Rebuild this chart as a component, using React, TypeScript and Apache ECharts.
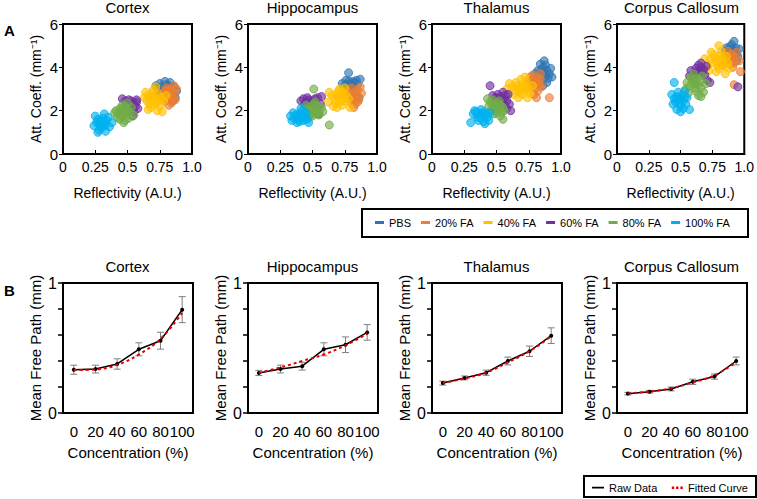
import React, { useEffect, useRef } from "react";
import * as echarts from "echarts";

// ---------- DATA ----------
const regions = ["Cortex", "Hippocampus", "Thalamus", "Corpus Callosum"];
const groups = ["PBS", "20% FA", "40% FA", "60% FA", "80% FA", "100% FA"];
const groupColors = ["#2E75B6", "#ED7D31", "#FFC000", "#7030A0", "#70AD47", "#00B0F0"];
const conc = [0, 20, 40, 60, 80, 100];

// Cortex scatter (reflectivity, attenuation coefficient)
const cortexPBS = [[0.74,2.9],[0.76,3.1],[0.78,3.0],[0.8,3.05],[0.77,2.85],[0.82,3.15],[0.75,3.25],[0.79,3.35],[0.84,2.95],[0.81,2.8],[0.73,3.05],[0.86,3.1],[0.87,2.6],[0.85,2.45],[0.83,3.3],[0.76,2.7],[0.8,3.2],[0.78,2.75],[0.72,3.15],[0.88,2.9]];
const cortex20 = [[0.8,2.7],[0.82,2.8],[0.84,2.6],[0.79,2.9],[0.83,3.0],[0.86,2.75],[0.81,2.5],[0.85,2.9],[0.78,2.65],[0.87,2.5],[0.84,2.35],[0.8,3.05],[0.76,2.8],[0.88,3.0],[0.82,2.25],[0.86,3.15],[0.79,2.45],[0.83,2.7],[0.85,2.55],[0.81,2.95]];
const cortex40 = [[0.68,2.5],[0.7,2.6],[0.72,2.55],[0.66,2.7],[0.69,2.8],[0.73,2.4],[0.71,2.3],[0.65,2.45],[0.74,2.75],[0.67,2.3],[0.7,2.95],[0.76,2.6],[0.63,2.6],[0.72,3.1],[0.75,2.2],[0.68,2.15],[0.78,2.45],[0.64,2.85],[0.73,2.0],[0.77,1.95],[0.66,2.05],[0.8,2.7],[0.69,2.65],[0.71,2.45]];
const cortex60 = [[0.5,2.2],[0.52,2.3],[0.54,2.1],[0.55,2.35],[0.53,2.45],[0.56,2.2],[0.51,2.5],[0.57,2.4],[0.48,2.45],[0.55,1.95],[0.58,2.1],[0.54,1.75],[0.46,2.55],[0.53,2.0],[0.57,2.5],[0.49,2.3]];
const cortex80 = [[0.45,1.9],[0.47,2.0],[0.49,1.85],[0.44,2.1],[0.46,1.75],[0.5,2.05],[0.48,2.2],[0.43,1.85],[0.52,1.9],[0.46,2.25],[0.41,2.0],[0.51,1.65],[0.44,1.6],[0.53,2.15],[0.48,1.55],[0.42,1.7],[0.5,2.35],[0.4,1.9],[0.55,1.8],[0.47,1.45],[0.45,2.05],[0.49,1.95]];
const cortex100 = [[0.28,1.4],[0.3,1.5],[0.32,1.45],[0.27,1.6],[0.29,1.3],[0.31,1.65],[0.33,1.35],[0.26,1.45],[0.34,1.55],[0.3,1.2],[0.25,1.75],[0.35,1.7],[0.28,1.1],[0.32,1.85],[0.24,1.3],[0.36,1.25],[0.27,1.0],[0.33,1.05],[0.38,1.45],[0.29,1.55],[0.31,1.35]];

// Hippocampus scatter
const hippoPBS = [[0.77,3.2],[0.79,3.25],[0.81,3.15],[0.78,3.35],[0.8,3.05],[0.75,3.15],[0.83,3.3],[0.76,3.4],[0.82,2.95],[0.85,3.2],[0.78,3.75],[0.87,3.45],[0.84,3.4],[0.73,3.25],[0.8,2.75],[0.86,2.6],[0.77,3.0],[0.81,3.35]];
const hippo20 = [[0.8,2.7],[0.82,2.6],[0.79,2.8],[0.83,2.85],[0.81,2.5],[0.84,2.7],[0.78,2.55],[0.85,2.95],[0.8,2.35],[0.86,2.5],[0.77,2.9],[0.83,2.3],[0.87,3.1],[0.74,2.6],[0.82,2.15],[0.88,2.8],[0.8,3.05],[0.85,2.4]];
const hippo40 = [[0.7,2.6],[0.72,2.7],[0.74,2.6],[0.69,2.75],[0.71,2.5],[0.73,2.85],[0.67,2.55],[0.75,2.45],[0.7,2.9],[0.65,2.7],[0.76,2.75],[0.68,2.35],[0.73,2.25],[0.63,2.85],[0.78,2.55],[0.66,2.2],[0.71,3.0],[0.62,2.4],[0.79,2.15],[0.75,3.05],[0.69,2.15],[0.72,2.45]];
const hippo60 = [[0.45,2.4],[0.47,2.5],[0.43,2.55],[0.5,2.45],[0.46,2.6],[0.52,2.55],[0.49,2.35],[0.54,2.6],[0.44,2.3],[0.56,2.3],[0.55,1.85],[0.53,2.1],[0.57,2.65],[0.41,2.45]];
const hippo80 = [[0.48,2.0],[0.5,2.05],[0.52,1.95],[0.47,2.15],[0.49,1.85],[0.53,2.2],[0.51,2.3],[0.46,1.9],[0.54,2.0],[0.45,2.25],[0.55,1.8],[0.5,1.75],[0.57,2.15],[0.44,2.05],[0.52,2.4],[0.58,1.95],[0.51,3.0],[0.63,1.34],[0.47,1.7],[0.53,1.85]];
const hippo100 = [[0.38,1.7],[0.4,1.75],[0.42,1.68],[0.37,1.8],[0.39,1.6],[0.41,1.85],[0.43,1.55],[0.36,1.65],[0.44,1.75],[0.4,1.5],[0.35,1.9],[0.45,1.9],[0.38,1.45],[0.42,2.0],[0.34,1.55],[0.46,1.6],[0.33,1.75],[0.47,1.45],[0.41,2.1],[0.39,1.85]];

// Thalamus scatter
const thalPBS = [[0.84,3.7],[0.86,3.8],[0.88,3.65],[0.85,3.9],[0.87,3.55],[0.83,3.6],[0.89,3.85],[0.86,4.0],[0.82,3.85],[0.9,3.5],[0.85,3.45],[0.88,4.1],[0.91,3.7],[0.8,3.7],[0.84,4.15],[0.87,4.3],[0.93,3.55],[0.89,3.3],[0.81,3.45],[0.92,3.95],[0.86,3.15]];
const thal20 = [[0.79,3.3],[0.81,3.35],[0.77,3.4],[0.8,3.2],[0.82,3.5],[0.78,3.15],[0.83,3.25],[0.76,3.55],[0.8,3.0],[0.84,3.45],[0.75,3.3],[0.82,2.9],[0.78,3.65],[0.85,3.1],[0.79,2.75],[0.74,3.05],[0.81,2.6],[0.91,2.6],[0.84,3.7]];
const thal40 = [[0.67,3.0],[0.69,3.05],[0.71,2.95],[0.66,3.15],[0.7,3.2],[0.72,3.1],[0.68,2.85],[0.64,2.95],[0.74,3.0],[0.65,3.3],[0.7,2.75],[0.73,3.35],[0.62,3.1],[0.76,2.8],[0.67,2.6],[0.6,3.25],[0.72,3.55],[0.63,2.75],[0.78,3.15],[0.69,3.45],[0.74,2.6],[0.58,3.0]];
const thal60 = [[0.52,2.6],[0.54,2.65],[0.56,2.55],[0.51,2.75],[0.55,2.4],[0.57,2.7],[0.53,2.5],[0.49,2.6],[0.58,2.45],[0.5,2.45],[0.59,2.75],[0.55,2.85],[0.47,2.7],[0.6,2.3],[0.58,2.1],[0.45,3.15],[0.61,2.0],[0.56,2.25]];
const thal80 = [[0.48,2.15],[0.5,2.2],[0.52,2.1],[0.47,2.3],[0.49,2.0],[0.51,2.35],[0.53,2.25],[0.46,2.05],[0.54,1.95],[0.45,2.4],[0.5,1.9],[0.55,2.15],[0.44,2.2],[0.52,2.45],[0.48,1.85],[0.43,2.55],[0.56,2.0],[0.53,1.75],[0.55,1.6],[0.47,2.5]];
const thal100 = [[0.37,1.8],[0.39,1.85],[0.41,1.75],[0.36,1.9],[0.38,1.65],[0.4,1.95],[0.42,1.85],[0.35,1.7],[0.43,1.7],[0.38,2.05],[0.34,1.95],[0.44,1.55],[0.36,1.55],[0.4,1.5],[0.32,1.85],[0.45,1.9],[0.3,1.45],[0.41,1.4],[0.33,2.0]];

// Corpus Callosum scatter
const ccPBS = [[0.88,4.8],[0.9,4.85],[0.92,4.75],[0.89,4.95],[0.91,4.6],[0.87,4.7],[0.93,4.9],[0.86,4.9],[0.94,4.65],[0.9,5.05],[0.85,4.75],[0.95,4.5],[0.92,5.2],[0.89,4.5],[0.96,4.85],[0.94,4.3]];
const cc20 = [[0.87,4.4],[0.89,4.45],[0.91,4.35],[0.88,4.55],[0.86,4.25],[0.9,4.6],[0.92,4.2],[0.85,4.5],[0.93,4.45],[0.89,4.15],[0.84,4.35],[0.94,4.7],[0.91,4.0],[0.87,4.75],[0.96,4.3],[0.97,3.8],[0.92,3.2],[0.83,4.1]];
const cc40 = [[0.78,4.3],[0.8,4.35],[0.82,4.25],[0.77,4.45],[0.79,4.1],[0.81,4.55],[0.83,4.4],[0.75,4.2],[0.84,4.1],[0.76,4.6],[0.8,3.95],[0.86,4.5],[0.73,4.35],[0.82,4.75],[0.71,4.05],[0.87,4.2],[0.78,3.8],[0.74,4.7],[0.88,3.95],[0.8,5.0],[0.69,4.4],[0.85,3.7],[0.72,3.85]];
const cc60 = [[0.63,3.8],[0.65,3.85],[0.67,3.75],[0.62,3.95],[0.66,4.0],[0.68,3.9],[0.6,3.7],[0.64,4.1],[0.69,3.65],[0.58,3.85],[0.7,4.05],[0.61,3.55],[0.71,3.4],[0.57,3.6],[0.66,4.2],[0.95,3.1],[0.73,3.3]];
const cc80 = [[0.6,3.25],[0.62,3.3],[0.64,3.2],[0.59,3.4],[0.61,3.05],[0.63,3.5],[0.65,3.35],[0.57,3.15],[0.66,3.05],[0.58,3.55],[0.62,2.9],[0.67,3.6],[0.55,3.3],[0.6,3.7],[0.68,2.85],[0.54,3.0],[0.64,2.7],[0.7,3.25],[0.56,2.8],[0.66,2.65]];
const cc100 = [[0.48,2.5],[0.5,2.55],[0.52,2.45],[0.47,2.65],[0.49,2.35],[0.51,2.7],[0.46,2.4],[0.53,2.6],[0.45,2.55],[0.5,2.2],[0.54,2.3],[0.48,2.85],[0.44,2.3],[0.52,2.1],[0.47,2.05],[0.55,2.6],[0.43,2.75],[0.45,3.3],[0.5,1.95],[0.57,2.05],[0.53,2.9]];

// Mean free path (mm) vs concentration
const cortexRaw = [0.333, 0.338, 0.377, 0.49, 0.556, 0.795];
const cortexErr = [0.035, 0.03, 0.04, 0.05, 0.065, 0.1];
const cortexFit = [0.33, 0.335, 0.37, 0.45, 0.57, 0.77];
const hippoRaw = [0.308, 0.338, 0.36, 0.49, 0.525, 0.62];
const hippoErr = [0.02, 0.03, 0.03, 0.05, 0.06, 0.06];
const hippoFit = [0.31, 0.35, 0.4, 0.45, 0.52, 0.61];
const thalRaw = [0.23, 0.27, 0.31, 0.4, 0.475, 0.595];
const thalErr = [0.015, 0.015, 0.02, 0.03, 0.04, 0.06];
const thalFit = [0.23, 0.265, 0.31, 0.39, 0.475, 0.59];
const ccRaw = [0.149, 0.164, 0.185, 0.24, 0.28, 0.4];
const ccErr = [0.01, 0.01, 0.015, 0.02, 0.02, 0.03];
const ccFit = [0.15, 0.165, 0.19, 0.235, 0.29, 0.39];

// ---------- CHART ----------
const scatterSets = [
  [cortexPBS, cortex20, cortex40, cortex60, cortex80, cortex100],
  [hippoPBS, hippo20, hippo40, hippo60, hippo80, hippo100],
  [thalPBS, thal20, thal40, thal60, thal80, thal100],
  [ccPBS, cc20, cc40, cc60, cc80, cc100],
];
const rawSets = [cortexRaw, hippoRaw, thalRaw, ccRaw];
const errSets = [cortexErr, hippoErr, thalErr, ccErr];
const fitSets = [cortexFit, hippoFit, thalFit, ccFit];

const FONT = "Liberation Sans, Arial, sans-serif";
const LEFTS = [63, 248, 432, 617];
const PW = 129;
const PH = 130;
const TOP1 = 24;
const TOP2 = 283;

const ICON_LINE = "path://M0,0h0.01v0.01h-0.01z M0,3.2h12v1.8h-12z M0,8h0.01v0.01h-0.01z";
const ICON_DOTS = "path://M0,0h0.01v0.01h-0.01z M0.5,3h2.4v2.4h-2.4z M4.8,3h2.4v2.4h-2.4z M9.1,3h2.4v2.4h-2.4z M0,8h0.01v0.01h-0.01z";

function hexA(hex: string, a: number) {
  const n = parseInt(hex.slice(1), 16);
  return `rgba(${(n >> 16) & 255},${(n >> 8) & 255},${n & 255},${a})`;
}

function buildOption() {
  const grid: any[] = [];
  const xAxis: any[] = [];
  const yAxis: any[] = [];
  const series: any[] = [];
  const graphic: any[] = [];
  const axisLine = { onZero: false, lineStyle: { color: "#000", width: 2 } };

  // top row: grid indices 0..3
  regions.forEach((r, i) => {
    grid.push({ left: LEFTS[i], top: TOP1, width: PW, height: PH, show: true, borderColor: "#000", borderWidth: 2 });
    xAxis.push({
      type: "value", gridIndex: i, min: 0, max: 1, interval: 0.25,
      axisLine, splitLine: { show: false },
      axisTick: { inside: true, length: 4, lineStyle: { color: "#000" } },
      axisLabel: { color: "#000", fontSize: 14, fontFamily: FONT, margin: 6,
        formatter: (v: number) => (v === 1 ? "1.0" : String(v)) },
      name: "Reflectivity (A.U.)", nameLocation: "middle", nameGap: 32,
      nameTextStyle: { color: "#000", fontSize: 14, fontFamily: FONT },
    });
    yAxis.push({
      type: "value", gridIndex: i, min: 0, max: 6, interval: 2,
      axisLine, splitLine: { show: false },
      axisTick: { length: 4, lineStyle: { color: "#000" } },
      axisLabel: { color: "#000", fontSize: 15, fontFamily: FONT, margin: 5 },
      name: "Att. Coeff. (mm⁻¹)", nameLocation: "middle", nameGap: 20,
      nameTextStyle: { color: "#000", fontSize: 14, fontFamily: FONT },
    });
    scatterSets[i].forEach((pts, g) => {
      series.push({
        type: "scatter", name: groups[g], xAxisIndex: i, yAxisIndex: i,
        data: pts, symbol: "circle", symbolSize: 8,
        itemStyle: { color: hexA(groupColors[g], 0.8), borderColor: groupColors[g], borderWidth: 1 },
      });
    });
    graphic.push({ type: "text", x: LEFTS[i] + PW / 2, y: 7,
      style: { text: r, fill: "#000", font: `15px ${FONT}`, textAlign: "center", textVerticalAlign: "middle" } });
  });

  // bottom row: grid indices 4..7
  regions.forEach((r, i) => {
    const gi = i + 4;
    grid.push({ left: LEFTS[i], top: TOP2, width: PW + 1, height: PH, show: true, borderColor: "#000", borderWidth: 2 });
    xAxis.push({
      type: "value", gridIndex: gi, min: -10, max: 110,
      axisLine, splitLine: { show: false },
      axisTick: { show: false },
      axisLabel: { color: "#000", fontSize: 15, fontFamily: FONT, margin: 11, customValues: conc,
        hideOverlap: false, showMaxLabel: true, showMinLabel: true },
      name: "Concentration (%)", nameLocation: "middle", nameGap: 32,
      nameTextStyle: { color: "#000", fontSize: 15, fontFamily: FONT },
    });
    yAxis.push({
      type: "value", gridIndex: gi, min: 0, max: 1, interval: 0.2,
      axisLine, splitLine: { show: false },
      axisTick: { length: 5, lineStyle: { color: "#000", width: 1.5 } },
      axisLabel: { color: "#000", fontSize: 16, fontFamily: FONT, margin: 6,
        formatter: (v: number) => (Math.abs(v) < 1e-6 ? "0" : Math.abs(v - 1) < 1e-6 ? "1" : "") },
      name: "Mean Free Path (mm)", nameLocation: "middle", nameGap: 20,
      nameTextStyle: { color: "#000", fontSize: 15, fontFamily: FONT },
    });
    series.push({
      type: "custom", name: "err" + i, xAxisIndex: gi, yAxisIndex: gi,
      data: conc.map((c, k) => [c, rawSets[i][k], errSets[i][k]]),
      encode: { x: 0, y: 1 }, z: 1,
      renderItem: (params: any, api: any) => {
        const x = api.value(0), y = api.value(1), e = api.value(2);
        const t = api.coord([x, y + e]);
        const b = api.coord([x, y - e]);
        const hw = 3.5;
        const st = { stroke: "#7f7f7f", lineWidth: 1 };
        return {
          type: "group",
          children: [
            { type: "line", shape: { x1: t[0], y1: t[1], x2: b[0], y2: b[1] }, style: st },
            { type: "line", shape: { x1: t[0] - hw, y1: t[1], x2: t[0] + hw, y2: t[1] }, style: st },
            { type: "line", shape: { x1: b[0] - hw, y1: b[1], x2: b[0] + hw, y2: b[1] }, style: st },
          ],
        };
      },
    });
    series.push({
      type: "line", name: "Raw Data", xAxisIndex: gi, yAxisIndex: gi, z: 2,
      data: conc.map((c, k) => [c, rawSets[i][k]]),
      symbol: "circle", symbolSize: 4, showSymbol: true,
      lineStyle: { color: "#000", width: 1.5 }, itemStyle: { color: "#000" },
    });
    series.push({
      type: "line", name: "Fitted Curve", xAxisIndex: gi, yAxisIndex: gi, z: 3,
      data: conc.map((c, k) => [c, fitSets[i][k]]),
      smooth: 0.4, symbol: "none",
      lineStyle: { color: "#E00000", width: 2, type: [3, 3] }, itemStyle: { color: "#E00000" },
    });
    graphic.push({ type: "text", x: LEFTS[i] + PW / 2, y: 266,
      style: { text: r, fill: "#000", font: `15px ${FONT}`, textAlign: "center", textVerticalAlign: "middle" } });
  });

  graphic.push({ type: "text", x: 4, y: 30, style: { text: "A", fill: "#000", font: `bold 15px ${FONT}`, textVerticalAlign: "middle" } });
  graphic.push({ type: "text", x: 4, y: 290, style: { text: "B", fill: "#000", font: `bold 15px ${FONT}`, textVerticalAlign: "middle" } });
  graphic.push({ type: "rect", shape: { x: 362, y: 209, width: 386, height: 28 }, style: { fill: "none", stroke: "#000", lineWidth: 2 }, z: -1 });
  graphic.push({ type: "rect", shape: { x: 584, y: 476, width: 172, height: 21 }, style: { fill: "none", stroke: "#000", lineWidth: 2 }, z: -1 });

  return {
    animation: false,
    backgroundColor: "#fff",
    grid, xAxis, yAxis, series, graphic,
    legend: [
      {
        left: 375, top: 217, width: 382, orient: "horizontal", padding: 0,
        itemWidth: 9, itemHeight: 3, itemGap: 10, icon: "rect",
        textStyle: { color: "#000", fontSize: 11, fontFamily: FONT },
        data: groups.map((g, k) => ({ name: g, itemStyle: { color: groupColors[k], borderWidth: 0, opacity: 1 } })),
        selectedMode: false,
      },
      {
        left: 592, top: 482, width: 170, orient: "horizontal", padding: 0,
        itemWidth: 12, itemHeight: 8, itemGap: 14,
        textStyle: { color: "#000", fontSize: 11, fontFamily: FONT },
        data: [
          { name: "Raw Data", icon: ICON_LINE, itemStyle: { color: "#000" } },
          { name: "Fitted Curve", icon: ICON_DOTS, itemStyle: { color: "#E00000" } },
        ],
        selectedMode: false,
      },
    ],
  };
}

export default function App() {
  const ref = useRef<HTMLDivElement>(null);
  useEffect(() => {
    if (!ref.current) return;
    const chart = echarts.init(ref.current, undefined, { renderer: "svg" });
    chart.setOption(buildOption() as any);
    return () => chart.dispose();
  }, []);
  return <div ref={ref} style={{ position: "fixed", left: 0, top: 0, width: 757, height: 499 }} />;
}
